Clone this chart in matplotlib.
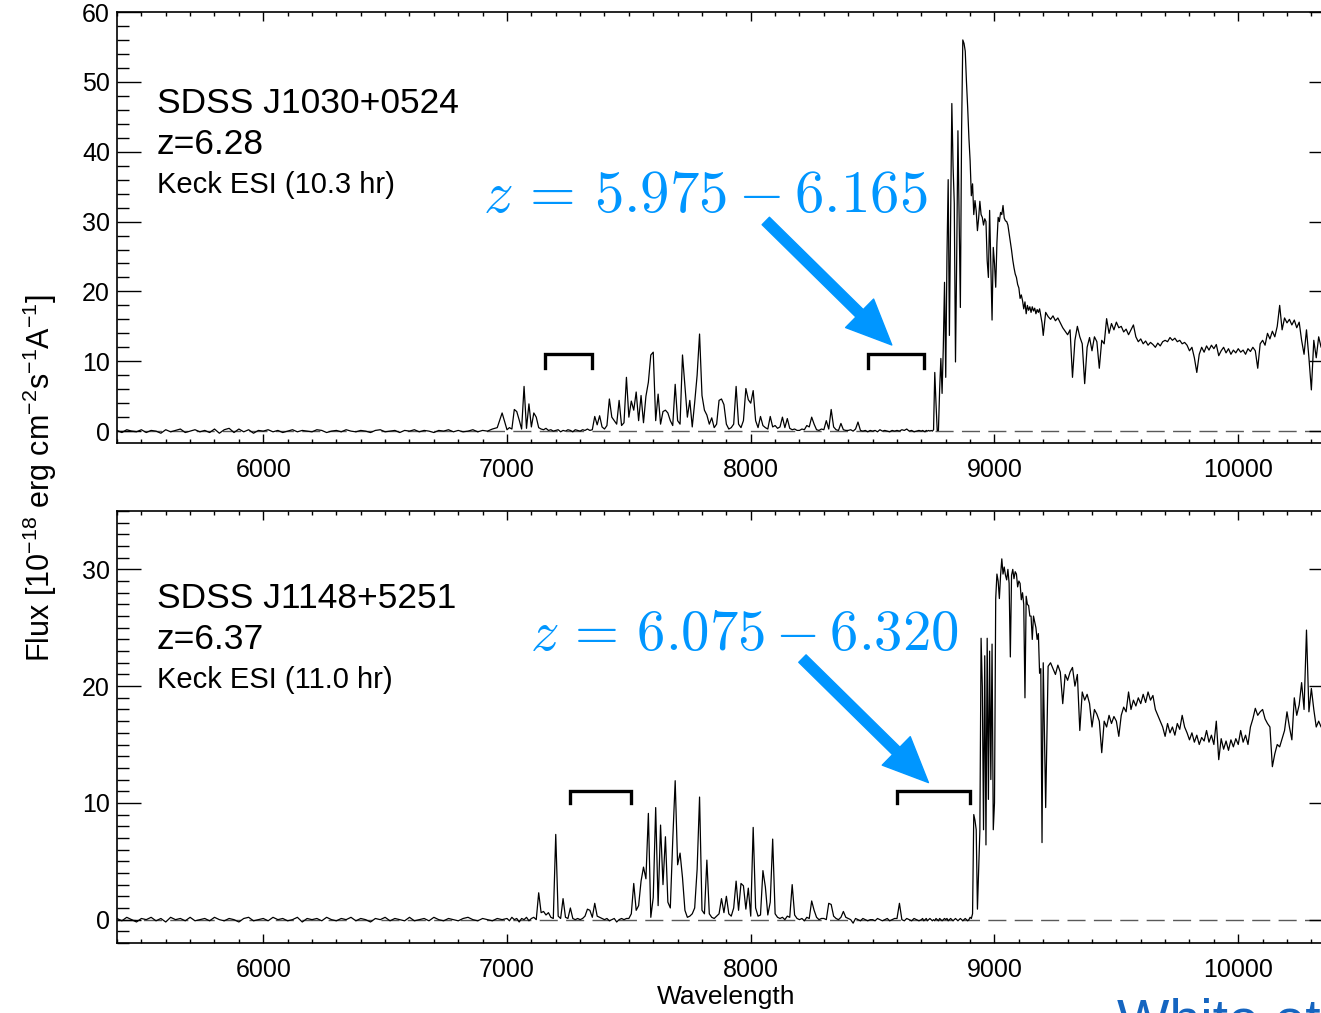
import numpy as np
import matplotlib.pyplot as plt
from matplotlib.ticker import MultipleLocator

plt.rcParams['font.family'] = ['Liberation Sans', 'DejaVu Sans']
plt.rcParams['mathtext.fontset'] = 'custom'
plt.rcParams['mathtext.rm'] = 'Liberation Sans'
plt.rcParams['mathtext.it'] = 'Liberation Sans:italic'
plt.rcParams['lines.scale_dashes'] = False

# wavelength grids (Angstrom): coarse blueward, finer around the Lya edge
wave_blue = np.arange(5400, 7000, 20)
wave_forest = np.arange(7000, 8700, 10)
wave_edge = np.arange(8700, 9200, 5)
wave_red = np.arange(9200, 10400, 10)

# SDSS J1030+0524 flux, 1e-18 erg/cm2/s/A
j1030_blue = [
    0.1, -0.2, 0.2, 0.0, -0.1, 0.2, -0.2, 0.1, 0.0, -0.3,
    0.2, -0.1, 0.1, 0.3, -0.2, 0.0, 0.2, -0.1, 0.1, -0.2,
    0.3, -0.3, 0.2, 0.4, -0.2, 0.3, -0.1, 0.2, -0.3, 0.1,
    0.0, 0.2, -0.1, 0.1, -0.2, 0.0, 0.2, -0.1, 0.1, 0.0,
    -0.1, 0.2, 0.1, -0.2, 0.0, 0.1, -0.1, 0.2, 0.0, -0.1,
    0.1, 0.0, -0.2, 0.1, 0.2, -0.1, 0.0, 0.1, -0.2, 0.1,
    0.0, 0.2, -0.1, 0.1, 0.0, -0.2, 0.1, 0.0, 0.2, -0.1,
    0.1, -0.1, 0.0, 0.2, -0.1, 0.1, 0.0, 0.3, 0.5, 2.6,
]
j1030_forest = [
    0.2, 0.5, 0.3, 3.1, 2.8, 1.6, 0.3, 6.4, 0.4, 3.9,
    0.6, 2.6, 2.0, 0.5, 0.3, 0.2, 0.4, 0.1, 0.2, 0.0,
    0.1, 0.2, -0.1, 0.1, 0.0, 0.2, 0.1, -0.1, 0.2, 0.1,
    0.0, 0.2, 0.1, 0.3, 0.1, 0.2, 2.1, 0.9, 2.2, 0.6,
    0.3, 0.8, 4.6, 2.0, 1.5, 1.0, 4.4, 0.8, 1.2, 7.7,
    2.0, 4.3, 3.0, 5.6, 1.5, 5.1, 1.2, 5.0, 7.0, 10.9,
    11.3, 1.5, 5.3, 1.0, 2.8, 3.0, 2.6, 1.5, 0.8, 6.7,
    1.5, 1.0, 10.9, 6.4, 2.0, 4.4, 0.6, 4.1, 8.0, 13.9,
    5.1, 3.0, 2.3, 1.0, 1.9, 0.5, 1.0, 4.4, 4.6, 3.8,
    1.0, 0.3, 0.5, 1.0, 6.4, 1.0, 0.5, 1.5, 6.1, 4.5,
    4.0, 5.8, 1.5, 0.5, 2.1, 0.8, 0.5, 0.3, 2.1, 0.6,
    0.8, 0.4, 0.6, 2.0, 0.5, 1.8, 0.4, 0.2, 0.3, 0.1,
    0.1, 0.3, 0.2, 0.8, 0.6, 2.0, 1.0, 0.2, 0.1, 0.3,
    0.2, 1.5, 0.3, 3.1, 0.6, 0.2, 0.1, 1.1, 0.2, 0.1,
    0.1, 0.2, 0.0, 0.3, 1.3, 0.1, 0.0, 0.1, -0.1, 0.1,
    0.0, 0.1, -0.1, 0.2, 0.0, 0.1, 0.0, -0.1, 0.1, 0.0,
    0.1, 0.0, 0.2, 0.1, 0.3, 0.0, 0.1, -0.1, 0.0, 0.1,
]
j1030_edge = [
    0.0, 0.1, 0.0, -0.1, 0.1, 0.0, 0.1, 0.0, 0.1, 0.0,
    0.2, 8.4, 4.0, 0.1, 0.1, 6.0, 10.4, 5.4, 12.0, 21.3,
    7.7, 25.0, 36.0, 13.7, 30.0, 46.9, 38.0, 32.6, 9.9, 25.0,
    43.0, 30.0, 17.7, 43.0, 56.0, 55.5, 54.4, 50.0, 46.3, 42.0,
    38.7, 33.7, 35.4, 31.0, 33.0, 31.5, 28.7, 30.5, 32.9, 31.0,
    30.6, 29.5, 30.4, 30.0, 24.4, 22.0, 31.6, 24.0, 15.9, 26.3,
    24.0, 20.6, 27.0, 30.6, 30.0, 31.3, 31.0, 32.3, 30.5, 30.1,
    30.0, 29.5, 28.3, 27.0, 25.9, 24.5, 23.4, 22.5, 22.0, 21.0,
    20.5, 19.0, 19.5, 18.7, 17.5, 18.5, 16.8, 18.0, 17.3, 17.8,
    17.0, 17.8, 17.2, 17.6, 16.8, 17.4, 17.0, 17.5, 16.5, 15.5,
]
j1030_red = [
    13.7, 17.0, 16.4, 16.0, 16.5, 15.8, 16.2, 15.5, 14.8, 14.3,
    13.8, 14.5, 7.7, 13.0, 15.0, 13.5, 12.5, 6.8, 12.0, 13.4,
    11.5, 13.5, 12.8, 9.0, 13.0, 12.5, 16.1, 14.0, 15.4, 14.5,
    15.6, 14.8, 15.0, 14.2, 14.6, 13.8, 14.5, 15.2, 13.5, 12.8,
    13.2, 12.5, 12.9, 12.3, 12.7, 12.4, 12.0, 12.6, 12.2, 12.8,
    13.0, 12.8, 13.4, 13.0, 13.3, 12.8, 13.0, 12.5, 12.7, 12.3,
    11.5, 12.0, 10.5, 8.4, 11.0, 12.0, 11.3, 12.2, 11.6, 12.3,
    11.8, 12.4, 10.8, 11.5, 12.0, 11.2, 11.8, 11.0, 11.6, 11.2,
    11.8, 11.3, 11.6, 11.0, 11.8, 11.4, 12.0, 11.5, 9.0, 12.5,
    13.0, 12.3, 14.0, 13.2, 14.3, 13.5, 15.0, 18.0, 14.5, 16.2,
    15.5, 16.0, 15.2, 15.9, 14.8, 15.6, 13.0, 11.0, 14.5, 10.5,
    5.9, 13.0, 10.5, 13.5, 12.0, 12.5, 12.0, 12.5, 12.0, 12.3,
]

# SDSS J1148+5251
j1148_blue = [
    0.1, -0.1, 0.2, 0.0, -0.2, 0.1, 0.0, 0.2, -0.1, 0.1,
    -0.2, 0.2, 0.0, 0.1, -0.1, 0.2, -0.1, 0.0, 0.1, -0.1,
    0.2, 0.0, -0.1, 0.1, 0.0, -0.2, 0.1, 0.2, -0.1, 0.0,
    0.1, -0.1, 0.2, 0.0, 0.1, -0.1, 0.0, 0.2, -0.2, 0.1,
    0.0, 0.1, -0.1, 0.2, 0.0, -0.1, 0.1, 0.0, 0.2, -0.1,
    0.1, 0.0, -0.2, 0.1, 0.0, 0.2, -0.1, 0.1, 0.0, -0.1,
    0.2, -0.1, 0.0, 0.1, -0.1, 0.2, 0.0, -0.1, 0.1, 0.0,
    -0.1, 0.1, 0.2, 0.0, -0.1, 0.1, 0.0, -0.1, 0.1, 0.0,
]
j1148_forest = [
    0.1, -0.1, 0.2, 0.0, 0.1, -0.2, 0.1, 0.0, 0.2, -0.1,
    0.1, 0.2, 0.0, 2.3, 0.6, 0.7, 0.4, 0.6, 0.2, 0.1,
    7.3, 0.3, 0.1, 1.8, 0.2, 0.1, 1.0, 0.1, 0.0, 0.1,
    0.0, 0.1, 0.3, 0.9, 0.8, 0.2, 1.4, 0.3, 0.2, 0.1,
    0.0, 0.1, -0.1, 0.0, 0.1, -0.2, 0.0, 0.1, 0.0, 0.1,
    0.1, 0.5, 3.1, 0.8, 1.2, 3.3, 4.5, 3.5, 9.1, 0.2,
    1.9, 9.6, 1.2, 8.1, 3.0, 7.1, 1.5, 1.0, 6.8, 11.9,
    4.7, 5.7, 3.6, 0.8, 0.2, 0.3, 0.5, 1.0, 4.3, 10.5,
    0.8, 0.5, 5.1, 0.5, 0.2, 0.1, 0.3, 0.5, 1.8, 0.6,
    2.0, 0.5, 0.3, 1.0, 3.3, 0.8, 3.1, 2.9, 0.9, 2.7,
    0.3, 7.9, 1.0, 0.3, 0.4, 4.2, 2.8, 0.4, 1.5, 6.9,
    0.5, 0.2, 0.1, 0.2, 0.0, 0.3, 0.2, 3.0, 0.4, 0.1,
    0.0, 0.1, -0.1, 0.2, 0.1, 1.6, 0.8, 0.2, 0.0, 0.1,
    0.1, 0.0, 1.4, 1.3, 0.3, 0.1, 0.0, 0.2, 0.7, 0.2,
    0.1, 0.0, -0.3, 0.1, 0.0, -0.1, 0.1, 0.0, -0.1, 0.0,
    0.0, -0.1, 0.1, 0.0, -0.1, 0.0, 0.1, -0.1, 0.0, 0.1,
    0.1, 1.4, 0.0, -0.1, 0.1, 0.0, -0.1, 0.1, 0.0, -0.1,
]
j1148_edge = [
    0.0, 0.1, -0.1, 0.0, 0.1, -0.1, 0.0, 0.1, 0.0, -0.1,
    0.0, -0.1, 0.1, 0.0, -0.1, 0.1, 0.0, -0.1, 0.0, 0.1,
    0.0, 0.1, -0.1, 0.0, 0.1, 0.0, -0.1, 0.0, 0.1, 0.0,
    -0.1, 0.0, 0.1, 0.0, -0.1, 0.0, 0.1, 0.0, -0.1, 0.0,
    0.2, 0.1, 0.5, 9.0, 8.5, 7.7, 0.9, 4.4, 7.6, 24.1,
    20.0, 7.7, 22.6, 6.4, 24.1, 10.3, 23.0, 12.0, 23.6, 7.7,
    10.0, 27.5, 29.6, 29.0, 27.5, 29.5, 30.9, 29.6, 30.2, 29.5,
    29.1, 30.0, 28.8, 22.5, 29.5, 30.0, 29.2, 29.8, 29.6, 28.5,
    29.0, 28.8, 27.4, 28.0, 27.0, 19.0, 27.7, 27.0, 26.9, 26.0,
    26.0, 24.0, 26.0, 25.5, 25.0, 24.0, 24.5, 21.1, 21.5, 6.6,
]
j1148_red = [
    22.0, 9.6, 21.7, 22.0, 21.5, 21.0, 21.8, 21.2, 18.5, 21.0,
    20.5, 21.2, 21.6, 20.0, 21.0, 16.2, 19.5, 18.8, 19.3, 18.5,
    16.5, 18.0, 17.6, 17.0, 14.3, 17.0, 16.5, 17.5, 16.8, 17.4,
    17.0, 15.7, 17.5, 18.2, 17.8, 19.5, 18.0, 18.8, 18.3, 19.0,
    18.5, 19.3, 18.6, 19.5, 18.8, 19.2, 18.0, 17.5, 17.0, 16.5,
    15.7, 16.8, 16.0, 16.5, 15.8, 16.8, 16.3, 17.5, 16.5, 16.0,
    15.4, 16.0, 15.2, 15.8, 15.0, 15.6, 15.3, 16.2, 15.2, 15.8,
    15.0, 17.0, 13.7, 15.5, 14.6, 15.3, 14.5, 15.4, 14.8, 15.5,
    15.0, 16.2, 15.2, 15.8, 15.0, 16.5, 17.2, 18.1, 17.5, 17.8,
    18.0, 17.2, 16.8, 16.5, 13.1, 14.2, 15.0, 14.8, 15.5, 16.2,
    17.8, 16.5, 15.4, 19.0, 17.5, 18.4, 20.3, 18.0, 24.8, 17.8,
    19.8, 18.0, 16.5, 17.0, 16.5, 17.0, 16.8, 17.2, 16.9, 17.0,
]

names = ["SDSS J1030+0524", "SDSS J1148+5251"]
z_qso = ["6.28", "6.37"]
exposure = ["10.3", "11.0"]
z_windows = [(5.975, 6.165), (6.075, 6.320)]
LYA, LYB = 1215.67, 1025.72

blue = '#0096FF'
W, H = 1321, 1013

wave = np.concatenate([wave_blue, wave_forest, wave_edge, wave_red])
spectra = [
    np.concatenate([j1030_blue, j1030_forest, j1030_edge, j1030_red]),
    np.concatenate([j1148_blue, j1148_forest, j1148_edge, j1148_red]),
]

fig = plt.figure(figsize=(W / 100, H / 100), dpi=100)
ax_w = (1333.3 - 117) / W
ax1 = fig.add_axes([117 / W, 1 - 443 / H, ax_w, 431 / H])
ax2 = fig.add_axes([117 / W, 1 - 943 / H, ax_w, 432 / H])

panels = [
    (ax1, (-1.7, 60), 2, (11.1, 2.0), 1 - 113 / H, 1 - 212 / H, 483, 42.4),
    (ax2, (-2, 35), 1, (11.0, 1.0), 1 - 608 / H, 1 - 650 / H, 530, 40.8),
]

for i, (ax, ylim, yminor, (by, bleg), ytxt, yz, xz, zsize) in enumerate(panels):
    ax.axhline(0, color='0.35', lw=1.0, ls=(0, (13, 6)), zorder=1)
    ax.plot(wave, spectra[i], color='black', lw=0.9, zorder=2)
    ax.set_xlim(5400, 10390)
    ax.set_ylim(*ylim)

    # Lyb and Lya windows of the dark-gap redshift range
    z1, z2 = z_windows[i]
    for rest in (LYB, LYA):
        lo, hi = rest * (1 + z1), rest * (1 + z2)
        ax.plot([lo, lo, hi, hi], [by - bleg, by, by, by - bleg],
                color='black', lw=2.4, solid_joinstyle='miter', zorder=3)
    lo, hi = LYA * (1 + z1), LYA * (1 + z2)
    ax.annotate('', xy=(lo + 0.43 * (hi - lo), by + 0.02 * (ylim[1] - ylim[0])),
                xytext=(-126, 124), textcoords='offset pixels',
                arrowprops=dict(arrowstyle='simple,head_length=1.3,head_width=1.15,tail_width=0.3',
                                mutation_scale=25, color=blue, shrinkA=0, shrinkB=0),
                annotation_clip=False)

    ax.xaxis.set_major_locator(MultipleLocator(1000))
    ax.xaxis.set_minor_locator(MultipleLocator(100))
    ax.yaxis.set_major_locator(MultipleLocator(10))
    ax.yaxis.set_minor_locator(MultipleLocator(yminor))
    ax.tick_params(which='both', direction='in', top=True, right=True,
                   width=1.0, labelsize=18)
    ax.tick_params(axis='x', which='major', length=6.2, pad=11)
    ax.tick_params(axis='x', which='minor', length=3.1)
    ax.tick_params(axis='y', which='major', length=17.3, pad=5)
    ax.tick_params(axis='y', which='minor', length=8.6)
    for s in ax.spines.values():
        s.set_linewidth(1.2)

    fig.text(157 / W, ytxt, names[i], fontsize=25.5, va='baseline')
    fig.text(157 / W, ytxt - 41 / H, 'z=' + z_qso[i], fontsize=25.5, va='baseline')
    fig.text(157 / W, ytxt - 80 / H, 'Keck ESI (%s hr)' % exposure[i],
             fontsize=21, va='baseline')
    fig.text(xz / W, yz, r'$z\,=\,%.3f - %.3f$' % (z1, z2), fontsize=zsize,
             color=blue, math_fontfamily='cm', va='baseline')

fig.text(40 / W, 1 - 478 / H,
         r'Flux [10$^{-18}$ erg cm$^{-2}$s$^{-1}$A$^{-1}$]',
         rotation=90, ha='center', va='center', fontsize=22)
fig.text(726 / W, 1 - 997 / H, 'Wavelength', ha='center', va='center', fontsize=19)
fig.text(1117 / W, 1 - 1037 / H, 'White et al.', fontsize=40, color='#1565C0',
         va='baseline')

fig.savefig('out.png', dpi=100)
